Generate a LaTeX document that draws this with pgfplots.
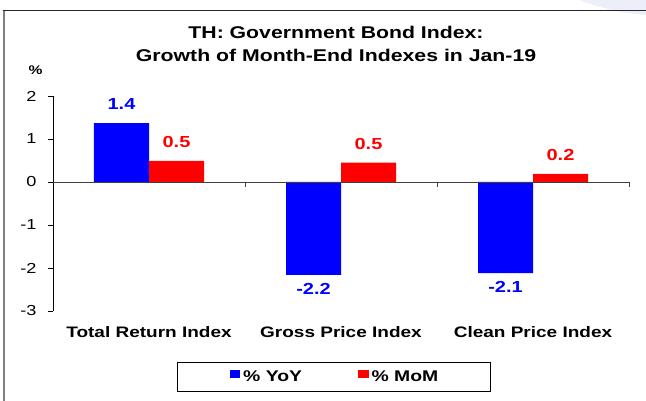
\documentclass[border=0pt]{standalone}
\usepackage{fontspec}
\setmainfont{Liberation Sans}[FakeStretch=1.25]
\usepackage{pgfplots}
\pgfplotsset{compat=1.18}
\definecolor{myblue}{RGB}{0,0,255}
\definecolor{myred}{RGB}{255,0,0}
\definecolor{framegray}{RGB}{128,128,128}
\definecolor{swoosh}{RGB}{236,239,250}
\begin{document}
\begin{tikzpicture}
\useasboundingbox (0pt,0pt) rectangle (646pt,401pt);
\begin{scope}
\clip (0pt,0pt) rectangle (646pt,401pt);
\fill[swoosh] (580pt,401pt) .. controls (600pt,393pt) and (620pt,388pt) .. (646pt,386pt) -- (646pt,401pt) -- cycle;
\draw[framegray,line width=2pt] (4pt,-5pt) -- (4pt,391pt);
\draw[black!85,line width=0.8pt] (3pt,391pt) -- (650pt,391pt);
\end{scope}
\node[font=\bfseries\fontsize{17}{20}\selectfont,anchor=base] at (336pt,362pt) {TH: Government Bond Index:};
\node[font=\bfseries\fontsize{17}{20}\selectfont,anchor=base] at (336pt,339.5pt) {Growth of Month-End Indexes in Jan-19};
\node[font=\bfseries\fontsize{12.5}{14}\selectfont] at (35.5pt,331pt) {\%};
\begin{axis}[
  at={(53pt,90pt)}, anchor=south west,
  scale only axis, width=576pt, height=215pt,
  xmin=-0.5, xmax=2.5, ymin=-3, ymax=2,
  axis x line*=bottom, axis y line*=left,
  x axis line style={draw=none},
  y axis line style={black, line width=0.8pt},
  ytick={-3,-2,-1,0,1,2},
  xtick={0,1,2},
  xticklabels={Total Return Index, Gross Price Index, Clean Price Index},
  x tick style={draw=none},
  y tick style={black, line width=0.8pt},
  tick align=outside, major tick length=5pt,
  yticklabel style={font=\fontsize{14.5}{16}\selectfont, xshift=-8pt},
  xticklabel style={font=\bfseries\fontsize{15.2}{18}\selectfont, yshift=-7pt},
  /pgf/number format/assume math mode=true,
  ybar, bar width=55pt,
  clip=false,
  nodes near coords={\pgfmathprintnumber[fixed,fixed zerofill,precision=1,assume math mode=true]{\pgfplotspointmeta}},
  nodes near coords align={vertical},
  every node near coord/.append style={font=\bfseries\fontsize{16}{18}\selectfont, inner ysep=10.5pt, inner xsep=0pt, yshift=2.5pt},
  legend columns=2,
  legend style={at={(axis description cs:0.4878,-0.3047)}, anchor=center, draw=black, line width=0.8pt,
     font=\bfseries\fontsize{15.5}{18}\selectfont, inner xsep=52pt, inner ysep=8pt,
     nodes={inner sep=0pt},
     /tikz/every odd column/.append style={column sep=3pt},
     /tikz/every even column/.append style={column sep=56pt}},
  legend image code/.code={\fill[#1] (0pt,-1pt) rectangle (10.5pt,7pt);},
]
\addplot[fill=myblue, draw=none, bar shift=-27.5pt, nodes near coords style={text=myblue}] coordinates {(0,1.37) (1,-2.16) (2,-2.12)};
\addplot[fill=myred, draw=none, bar shift=27.5pt, nodes near coords style={text=myred}] coordinates {(0,0.49) (1,0.45) (2,0.19)};
\legend{\% YoY, \% MoM}
\draw[black!75, line width=0.8pt] (axis cs:-0.5,0) -- (axis cs:2.5,0);
\draw[black!75, line width=0.8pt] (axis cs:0.5,0) -- ++(0pt,-5pt);
\draw[black!75, line width=0.8pt] (axis cs:1.5,0) -- ++(0pt,-5pt);
\draw[black!75, line width=0.8pt] (axis cs:2.5,0) -- ++(0pt,-5pt);
\end{axis}
\end{tikzpicture}
\end{document}
